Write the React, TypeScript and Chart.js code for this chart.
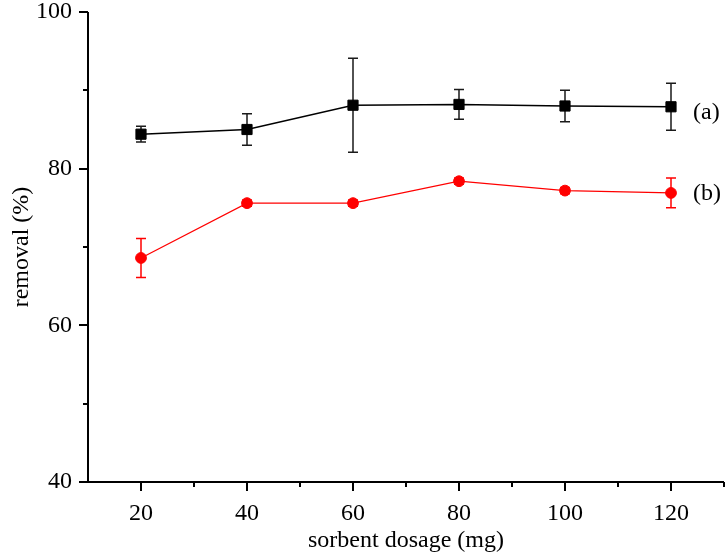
import React, { useEffect, useRef } from "react";
import { Chart, registerables } from "chart.js";

Chart.register(...registerables);

// ---- data ----
const dosages = [20, 40, 60, 80, 100, 120];
const removalA = [84.4, 85.0, 88.1, 88.2, 88.0, 87.9];
const errorA = [1.0, 2.0, 6.0, 1.9, 2.0, 3.0];
const removalB = [68.6, 75.6, 75.6, 78.4, 77.2, 76.9];
const errorB = [2.5, 0.4, 0.4, 0.4, 0.4, 1.9];
const seriesLabels = ["(a)", "(b)"];
const labelAnchorX = 124.15;
const labelAnchorY = [87.17, 76.75];
const xMajorTicks = [20, 40, 60, 80, 100, 120];
const xMinorTicks = [30, 50, 70, 90, 110, 130];
const yMajorTicks = [40, 60, 80, 100];
const yMinorTicks = [50, 70, 90];

const FONT = '"Liberation Serif", "Times New Roman", serif';
const FONT_SIZE = 24;

const errorBarPlugin = {
  id: "errorBars",
  beforeDatasetsDraw(chart: any) {
    const { ctx, scales } = chart;
    const xs = scales.x;
    const ys = scales.y;
    const sets = [
      { vals: removalA, errs: errorA, color: "#1a1a1a" },
      { vals: removalB, errs: errorB, color: "#ff0000" },
    ];
    ctx.save();
    sets.forEach((s) => {
      ctx.strokeStyle = s.color;
      ctx.lineWidth = 1.5;
      s.vals.forEach((v, i) => {
        const x = xs.getPixelForValue(dosages[i]);
        const yt = ys.getPixelForValue(v + s.errs[i]);
        const yb = ys.getPixelForValue(v - s.errs[i]);
        ctx.beginPath();
        ctx.moveTo(x, yt);
        ctx.lineTo(x, yb);
        ctx.moveTo(x - 5, yt);
        ctx.lineTo(x + 5, yt);
        ctx.moveTo(x - 5, yb);
        ctx.lineTo(x + 5, yb);
        ctx.stroke();
      });
    });
    ctx.restore();
  },
};

const axesPlugin = {
  id: "axesTicks",
  afterDraw(chart: any) {
    const { ctx, scales, chartArea } = chart;
    const xs = scales.x;
    const ys = scales.y;
    const { left, right, top, bottom } = chartArea;
    ctx.save();
    ctx.strokeStyle = "#000";
    ctx.lineWidth = 2;
    ctx.beginPath();
    ctx.moveTo(left, top);
    ctx.lineTo(left, bottom);
    ctx.lineTo(right, bottom);
    ctx.stroke();
    ctx.beginPath();
    xMajorTicks.forEach((v) => {
      const x = Math.round(xs.getPixelForValue(v));
      ctx.moveTo(x, bottom);
      ctx.lineTo(x, bottom + 9);
    });
    xMinorTicks.forEach((v) => {
      const x = Math.round(xs.getPixelForValue(v));
      ctx.moveTo(x, bottom);
      ctx.lineTo(x, bottom + 5);
    });
    yMajorTicks.forEach((v) => {
      const y = Math.round(ys.getPixelForValue(v));
      ctx.moveTo(left, y);
      ctx.lineTo(left - 9, y);
    });
    yMinorTicks.forEach((v) => {
      const y = Math.round(ys.getPixelForValue(v));
      ctx.moveTo(left, y);
      ctx.lineTo(left - 5, y);
    });
    ctx.stroke();

    ctx.fillStyle = "#000";
    ctx.font = `${FONT_SIZE}px ${FONT}`;
    ctx.textBaseline = "middle";

    // tick labels
    ctx.textAlign = "center";
    xMajorTicks.forEach((v) => {
      ctx.fillText(String(v), xs.getPixelForValue(v), bottom + 31.5);
    });
    ctx.textAlign = "right";
    yMajorTicks.forEach((v) => {
      ctx.fillText(String(v), left - 16, ys.getPixelForValue(v));
    });

    // series labels
    ctx.textAlign = "left";
    seriesLabels.forEach((t, i) => {
      ctx.fillText(t, xs.getPixelForValue(labelAnchorX), ys.getPixelForValue(labelAnchorY[i]));
    });
    ctx.restore();
  },
};

export default function App() {
  const ref = useRef<HTMLCanvasElement | null>(null);

  useEffect(() => {
    if (!ref.current) return;
    const chart = new Chart(ref.current, {
      type: "line",
      data: {
        datasets: [
          {
            label: seriesLabels[0],
            data: dosages.map((x, i) => ({ x, y: removalA[i] })),
            borderColor: "#000000",
            backgroundColor: "#000000",
            borderWidth: 1.4,
            pointStyle: "rect",
            pointRadius: 7.2,
            pointBorderWidth: 1,
            pointBackgroundColor: "#000000",
            pointBorderColor: "#000000",
            tension: 0,
          },
          {
            label: seriesLabels[1],
            data: dosages.map((x, i) => ({ x, y: removalB[i] })),
            borderColor: "#ff0000",
            backgroundColor: "#ff0000",
            borderWidth: 1.2,
            pointStyle: "circle",
            pointRadius: 5.4,
            pointBorderWidth: 1,
            pointBackgroundColor: "#ff0000",
            pointBorderColor: "#ff0000",
            tension: 0,
          },
        ],
      },
      options: {
        animation: false,
        responsive: false,
        devicePixelRatio: 1,
        layout: { autoPadding: false, padding: { top: 12, right: 1, left: 0, bottom: 0 } },
        plugins: {
          legend: { display: false },
          tooltip: { enabled: false },
        },
        scales: {
          x: {
            type: "linear",
            min: 10,
            max: 130,
            afterFit: (s: any) => {
              s.height = 73;
            },
            grid: { display: false, drawTicks: false },
            border: { display: false },
            ticks: { display: false, stepSize: 10 },
            title: {
              display: true,
              text: "sorbent dosage (mg)",
              color: "#000",
              font: { family: FONT, size: FONT_SIZE },
              padding: { top: 0, bottom: 0 },
            },
          },
          y: {
            type: "linear",
            min: 40,
            max: 100,
            afterFit: (s: any) => {
              s.width = 88;
            },
            grid: { display: false, drawTicks: false },
            border: { display: false },
            ticks: { display: false, stepSize: 10 },
            title: {
              display: true,
              text: "removal (%)",
              color: "#000",
              font: { family: FONT, size: FONT_SIZE },
              padding: { top: 7, bottom: 0 },
            },
          },
        },
      },
      plugins: [errorBarPlugin, axesPlugin],
    });
    return () => chart.destroy();
  }, []);

  return (
    <div style={{ position: "fixed", left: 0, top: 0, width: 725, height: 555, background: "#fff" }}>
      <canvas ref={ref} width={725} height={555} style={{ width: 725, height: 555, display: "block" }} />
    </div>
  );
}
